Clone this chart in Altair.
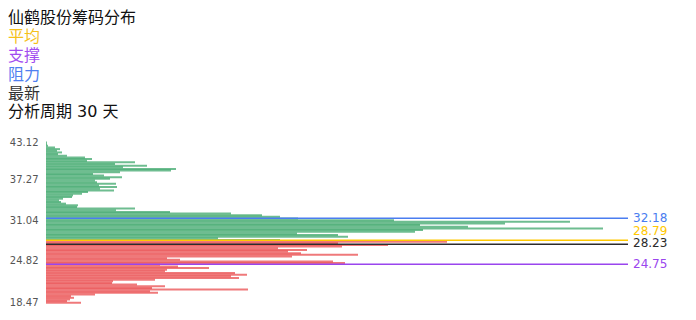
import altair as alt
import pandas as pd

# ---- text ----
title_text = "仙鹤股份筹码分布"
legend_items = ["平均", "支撑", "阻力", "最新"]
legend_colors = ["#f5c11a", "#a24cf0", "#4f80f0", "#333333"]
period_text = "分析周期 30 天"

# ---- chip distribution (bar lengths, top price level to bottom) ----
green_len = [1, 1, 2, 9, 14, 11, 16, 12, 21, 39, 46, 41, 89, 69, 101, 77,
             130, 125, 74, 47, 58, 76, 64, 49, 51, 70, 53, 71, 54, 68, 42, 36,
             27, 26, 17, 13, 15, 20, 32, 31, 89, 70, 124, 185, 216, 234, 252,
             348, 524, 459, 374, 422, 557, 377, 369, 251, 292, 302, 172, 234]
red_len = [401, 292, 342, 296, 232, 261, 242, 255, 312, 246, 121, 134, 287,
           299, 114, 132, 163, 121, 119, 189, 201, 185, 193, 109, 67, 66, 91,
           119, 106, 202, 104, 112, 49, 25, 28, 24, 21, 35]
top_level = 43.04
level_step = 0.2545

y_ticks = [43.12, 37.27, 31.04, 24.82, 18.47]
y_domain = [18.47, 43.12]

# ---- reference lines ----
line_names = ["阻力", "平均", "最新", "支撑"]
line_labels = ["32.18", "28.79", "28.23", "24.75"]
line_pos = [31.37, 27.99, 27.36, 24.28]
line_colors = ["#4a7df0", "#ffc800", "#2b2b2b", "#9a45ee"]
label_dy = [0, -9, -1, 0]

W, H = 582, 160

rows = []
lens = green_len + red_len
for i, L in enumerate(lens):
    rows.append({
        "price": round(top_level - level_step * i, 3),
        "start": 0,
        "len": L,
        "side": "up" if i < len(green_len) else "down",
    })
bars_df = pd.DataFrame(rows)

xs = alt.Scale(domain=[0, W], nice=False, zero=True)
ys = alt.Scale(domain=y_domain, nice=False, zero=False)

y_axis = alt.Axis(values=y_ticks, format=".2f", title=None, ticks=False,
                  domain=False, grid=False, labelFontSize=10,
                  labelColor="#555555", labelPadding=8,
                  labelOverlap=False, labelBound=False, labelSeparation=0,
                  labelFont="DejaVu Sans")

bars = alt.Chart(bars_df).mark_rule(strokeWidth=2, opacity=0.68).encode(
    x=alt.X("start:Q", scale=xs, axis=None),
    x2="len:Q",
    y=alt.Y("price:Q", scale=ys, axis=y_axis),
    color=alt.Color("side:N", scale=alt.Scale(domain=["up", "down"],
                                              range=["#2a9d5c", "#e8393b"]),
                    legend=None),
)

lines_df = pd.DataFrame({"name": line_names, "label": line_labels,
                         "pos": line_pos, "color": line_colors, "dy": label_dy})

rules = alt.Chart(lines_df).mark_rule(strokeWidth=1.4).encode(
    x=alt.value(0), x2=alt.value(W),
    y=alt.Y("pos:Q", scale=ys, axis=y_axis),
    color=alt.Color("color:N", scale=None),
)

label_layers = []
for i in range(len(line_labels)):
    sub = lines_df.iloc[[i]]
    label_layers.append(
        alt.Chart(sub).mark_text(align="left", baseline="middle", fontSize=12,
                                 font="DejaVu Sans", dx=5, dy=label_dy[i]).encode(
            x=alt.value(W),
            y=alt.Y("pos:Q", scale=ys, axis=y_axis),
            text="label:N",
            color=alt.Color("color:N", scale=None),
        )
    )

head_texts = [title_text] + legend_items + [period_text]
head_colors = ["#111111"] + legend_colors + ["#111111"]
head_y = [-124, -105, -86, -67, -48.5, -30]
header_layers = []
for t, c, yy in zip(head_texts, head_colors, head_y):
    header_layers.append(
        alt.Chart(pd.DataFrame({"text": [t]})).mark_text(
            align="left", baseline="middle", fontSize=16, color=c,
            font="DejaVu Sans, Noto Sans CJK SC").encode(
            x=alt.value(-38), y=alt.value(yy), text="text:N")
    )

chart = alt.layer(bars, rules, *label_layers, *header_layers).properties(
    width=W, height=H,
    padding={"left": 46, "top": 142, "right": 68, "bottom": 18},
    autosize=alt.AutoSizeParams(type="none"),
).configure_view(stroke=None)

chart.save("out.html", embed_options={"renderer": "svg", "actions": False})
